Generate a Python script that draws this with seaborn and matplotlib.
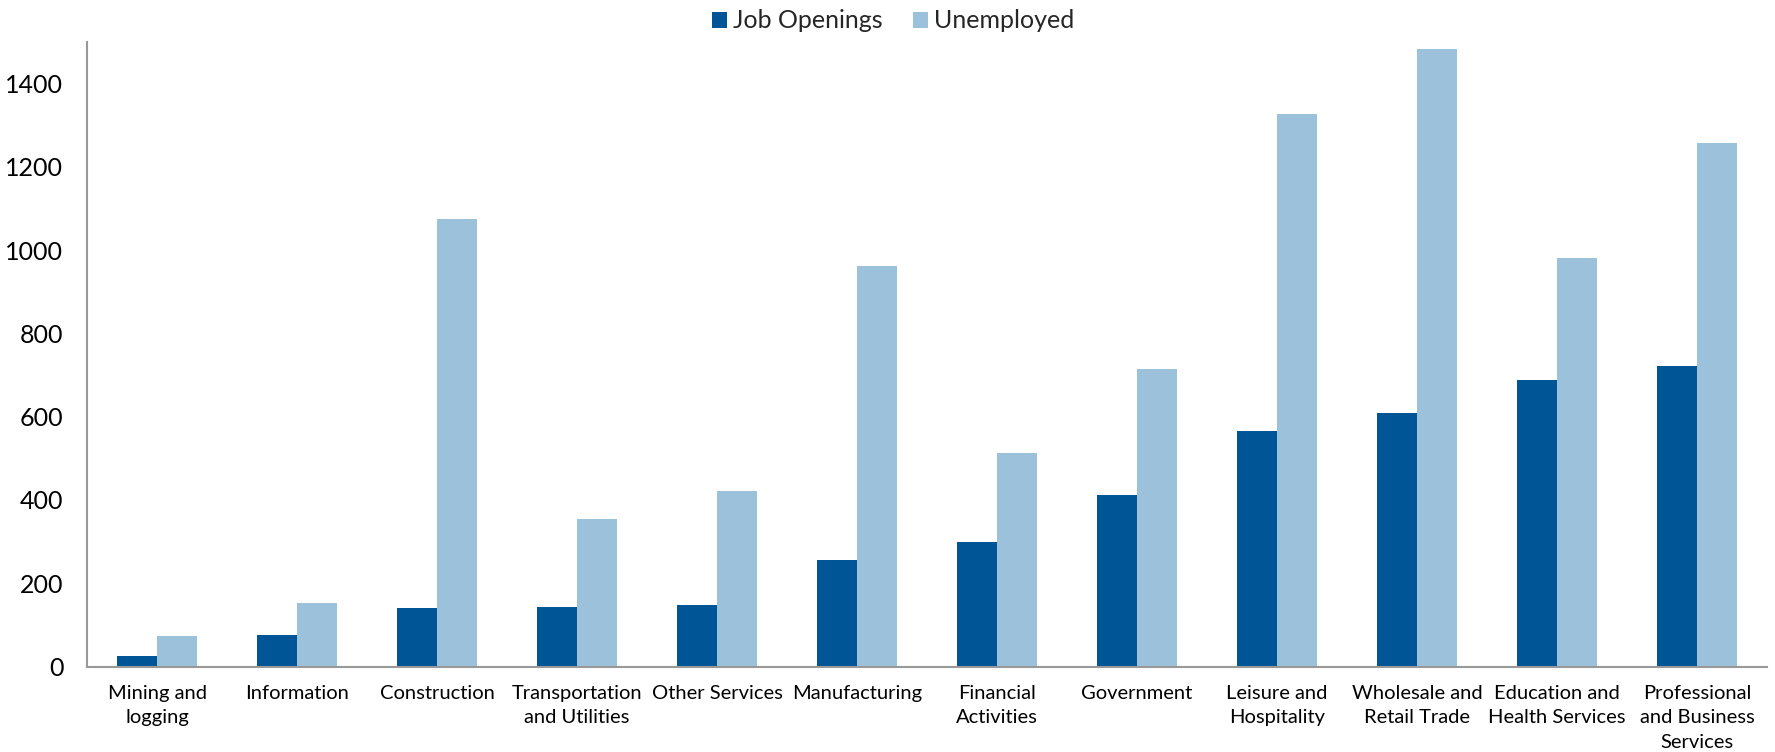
import matplotlib
matplotlib.use("Agg")
import matplotlib.pyplot as plt
import seaborn as sns
import pandas as pd
from matplotlib.patches import Patch

categories = ["Mining and\nlogging", "Information", "Construction", "Transportation\nand Utilities",
              "Other Services", "Manufacturing", "Financial\nActivities", "Government",
              "Leisure and\nHospitality", "Wholesale and\nRetail Trade", "Education and\nHealth Services",
              "Professional\nand Business\nServices"]
job_openings = [25, 76, 140, 142, 147, 255, 300, 411, 565, 610, 688, 721]
unemployed = [73, 152, 1076, 355, 421, 962, 514, 714, 1326, 1483, 982, 1258]
series = ["Job Openings", "Unemployed"]
yticks = [0, 200, 400, 600, 800, 1000, 1200, 1400]

colors = {"Job Openings": "#005596", "Unemployed": "#9CC2DB"}

df = pd.DataFrame({
    "Industry": categories * 2,
    "Series": [series[0]] * len(categories) + [series[1]] * len(categories),
    "Value": job_openings + unemployed,
})

sns.set_theme(style="white")
plt.rcParams["font.family"] = ["Lato", "DejaVu Sans"]

fig = plt.figure(figsize=(17.75, 7.52), dpi=100)
ax = fig.add_axes([87 / 1775, 1 - 666.5 / 752, 1680 / 1775, (666.5 - 42) / 752])

sns.barplot(data=df, x="Industry", y="Value", hue="Series", order=categories,
            hue_order=series, palette=colors, width=0.57, linewidth=0,
            saturation=1, ax=ax, legend=False)

ax.set_xlim(-0.5, len(categories) - 0.5)
ax.set_ylim(0, 1500)
ax.set_yticks(yticks)
ax.set_yticklabels([str(v) for v in yticks], fontsize=18)
ax.set_xticks(range(len(categories)))
ax.set_xticklabels(categories, fontsize=14.5, linespacing=1.55)
ax.tick_params(axis="y", length=0, pad=17, colors="black")
ax.tick_params(axis="x", length=0, pad=13, colors="black")
ax.set_xlabel("")
ax.set_ylabel("")

for side in ["top", "right"]:
    ax.spines[side].set_visible(False)
for side in ["left", "bottom"]:
    ax.spines[side].set_color("#999999")
    ax.spines[side].set_linewidth(1.5)

handles = [Patch(facecolor=colors[s], edgecolor="none", label=s) for s in series]
fig.legend(handles=handles, loc="center", bbox_to_anchor=(893 / 1775, 1 - 21 / 752),
           ncol=2, frameon=False, fontsize=18, handlelength=0.6, handleheight=0.6,
           handletextpad=0.25, columnspacing=1.2, borderaxespad=0)

fig.savefig("out.png", dpi=100)
